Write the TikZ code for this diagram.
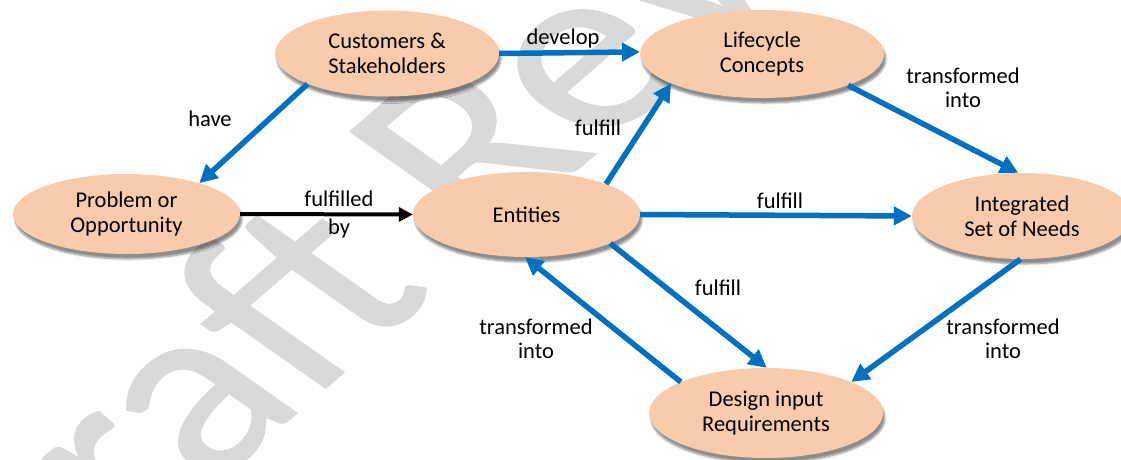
\documentclass[tikz,border=0pt]{standalone}
\usepackage{fontspec}
\setmainfont{Carlito}
\usetikzlibrary{arrows.meta,shapes.geometric,shadows.blur}
\definecolor{peach}{HTML}{F8CBAD}
\definecolor{arrowblue}{HTML}{0070C0}
\definecolor{wm}{HTML}{D9D9D9}
\font\wmfont="Carlito:embolden=0.6" at 245pt
\tikzset{
  bubble/.style={ellipse, fill=peach, draw=none, inner sep=0pt, align=center,
    font=\fontsize{22.5}{25}\selectfont,
    blur shadow={shadow xshift=2pt, shadow yshift=-5pt, shadow blur steps=6, shadow opacity=45}},
  lbl/.style={align=center, font=\fontsize{22.5}{24}\selectfont, inner sep=0pt},
  flow/.style={draw=arrowblue, line width=5.5pt, -{Triangle[length=18pt,width=18pt]}},
  blackflow/.style={draw=black, line width=4pt, -{Triangle[length=14pt,width=14pt]}}
}
\begin{document}
\begin{tikzpicture}[x=1pt,y=-1pt]
\useasboundingbox (0,0) rectangle (1121,459);
% watermark
\begin{scope}
\clip (0,0) rectangle (1121,459);
\begin{scope}[xscale=1.28]
\node[transform shape, rotate=48, text=wm, font=\wmfont, inner sep=0pt] (wmk) at (370,135) {Draft Review};
\end{scope}
\end{scope}
% nodes
\node[bubble, minimum width=224pt, minimum height=86pt] (cs) at (387,53.5) {Customers \&\\Stakeholders};
\node[bubble, minimum width=244pt, minimum height=88pt] (lc) at (762,54) {Lifecycle\\Concepts};
\node[bubble, minimum width=227pt, minimum height=80pt] (po) at (126.5,214) {Problem or\\Opportunity};
\node[bubble, minimum width=227pt, minimum height=85pt] (en) at (526.5,214.5) {Entities};
\node[bubble, minimum width=220pt, minimum height=86pt] (is) at (1022,216) {Integrated\\Set of Needs};
\node[bubble, minimum width=234pt, minimum height=90pt] (dr) at (766,413) {Design input\\Requirements};
% connectors
\draw[flow] (cs.east) -- (lc.179);
\draw[flow] (cs.201.5) -- (po.23.6);
\draw[blackflow] (po.east) -- (en.west);
\draw[flow] (en.21) -- (lc.198.8);
\draw[flow] (lc.340.8) -- (is.95);
\draw[flow] (en.east) -- (is.west);
\draw[flow] (en.341.2) -- (dr.89);
\draw[flow] (dr.160) -- (en.268);
\draw[flow] (is.268.6) -- (dr.20.3);
% labels
\node[lbl] (l1) at (563,38) {develop};
\node[lbl] (l2) at (210,119) {have};
\node[lbl, font=\fontsize{22.5}{28}\selectfont] (l3) at (339,214) {fulfilled\\by};
\node[lbl] (l4) at (598,128) {fulfill};
\node[lbl] (l5) at (963,88) {transformed\\into};
\node[lbl] (l6) at (780,201) {fulfill};
\node[lbl] (l7) at (718,288) {fulfill};
\node[lbl] (l8) at (536,339) {transformed\\into};
\node[lbl] (l9) at (1003,339) {transformed\\into};
\end{tikzpicture}
\end{document}
